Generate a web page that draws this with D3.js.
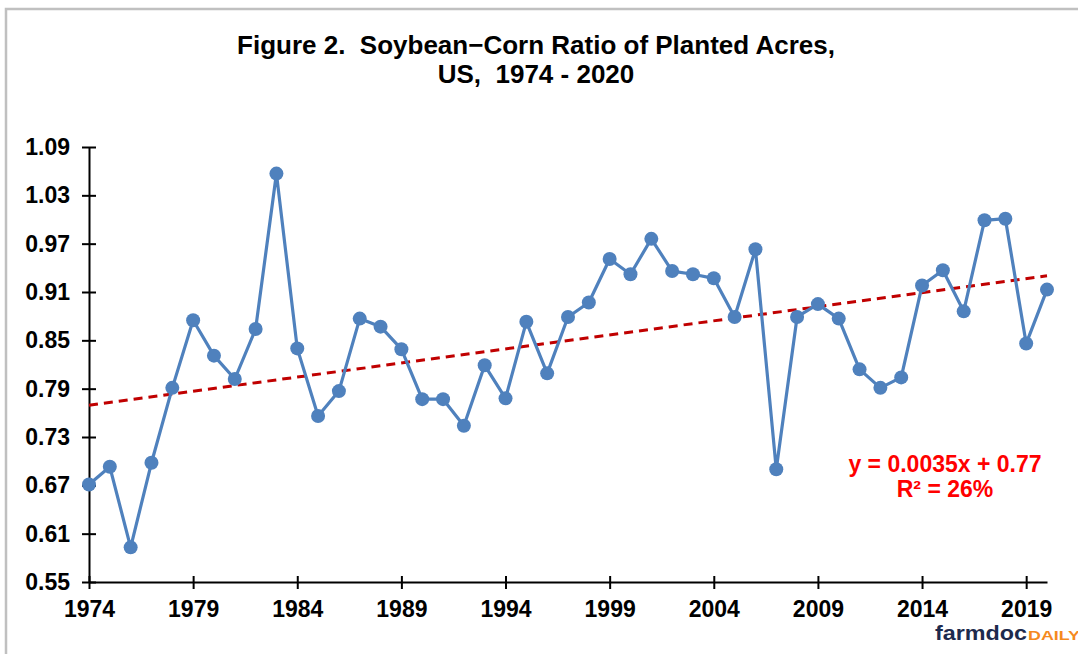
<!DOCTYPE html>
<html>
<head>
<meta charset="utf-8">
<script src="https://cdn.jsdelivr.net/npm/d3@7"></script>
<style>
  body { margin: 0; background: #fff; }
  text { font-family: "Liberation Sans", Arial, sans-serif; white-space: pre; }
</style>
</head>
<body>
<div id="chart"></div>
<script>
// 1: DATA
const years = d3.range(1974, 2021);
const ratios = [
  0.671, 0.693, 0.593, 0.698, 0.791, 0.875, 0.831, 0.802, 0.864, 1.057,
  0.840, 0.756, 0.787, 0.877, 0.867, 0.839, 0.777, 0.777, 0.744, 0.819,
  0.778, 0.873, 0.809, 0.879, 0.897, 0.951, 0.932, 0.976, 0.936, 0.932,
  0.927, 0.879, 0.963, 0.690, 0.879, 0.895, 0.877, 0.814, 0.791, 0.804,
  0.918, 0.937, 0.886, 0.999, 1.001, 0.846, 0.913
];
const yTicks = [0.55, 0.61, 0.67, 0.73, 0.79, 0.85, 0.91, 0.97, 1.03, 1.09];
const xTicks = [1974, 1979, 1984, 1989, 1994, 1999, 2004, 2009, 2014, 2019];
const titleLines = ["Figure 2.  Soybean\u2212Corn Ratio of Planted Acres,", "US,  1974 - 2020"];
const eqLines = ["y = 0.0035x + 0.77", "R\u00B2 = 26%"];

const data = years.map((y, i) => ({ year: y, value: ratios[i] }));

// 2: SVG
const W = 1078, H = 654;
const svg = d3.select("#chart").append("svg")
  .attr("width", W).attr("height", H);

// frame
svg.append("path")
  .attr("d", `M6,${H} V9 H${W}`)
  .attr("fill", "none")
  .attr("stroke", "#c0c0c0")
  .attr("stroke-width", 2.5);

// 3: SCALES
const x = d3.scaleLinear().domain([1974, 2020]).range([89, 1047]);
const y = d3.scaleLinear().domain([0.55, 1.09]).range([582, 147]);

// title
svg.append("g").selectAll("text")
  .data(titleLines).join("text")
  .attr("x", 536)
  .attr("y", (d, i) => 54 + i * 29)
  .attr("text-anchor", "middle")
  .attr("font-size", "26px")
  .attr("font-weight", "bold")
  .attr("fill", "#000")
  .text(d => d);

// 4: AXES
const yAxis = svg.append("g")
  .attr("transform", `translate(${x(1974)},0)`)
  .call(d3.axisLeft(y).tickValues(yTicks).tickFormat(d3.format(".2f"))
    .tickSizeInner(7).tickSizeOuter(0).tickPadding(12));
yAxis.selectAll(".tick line").attr("x2", 7).attr("x1", -7);

const xAxis = svg.append("g")
  .attr("transform", `translate(0,${y(0.55)})`)
  .call(d3.axisBottom(x).tickValues(xTicks).tickFormat(d3.format("d"))
    .tickSizeInner(6).tickSizeOuter(0).tickPadding(13));
xAxis.selectAll(".tick line").attr("y1", -6).attr("y2", 7);

[yAxis, xAxis].forEach(a => {
  a.select(".domain").attr("stroke", "#000").attr("stroke-width", 2);
  a.selectAll(".tick line").attr("stroke", "#000").attr("stroke-width", 2);
  a.selectAll(".tick text")
    .attr("font-size", "23px")
    .attr("font-weight", "bold")
    .attr("fill", "#000")
    .attr("font-family", "'Liberation Sans', Arial, sans-serif");
});

// 5: TREND LINE (least squares on year index)
const n = data.length;
const idx = data.map((d, i) => i + 1);
const mx = d3.mean(idx), my = d3.mean(ratios);
const slope = d3.sum(idx, (t, i) => (t - mx) * (ratios[i] - my)) / d3.sum(idx, t => (t - mx) ** 2);
const icpt = my - slope * mx;

svg.append("line")
  .attr("x1", x(1974)).attr("y1", y(icpt + slope * 1))
  .attr("x2", x(2020)).attr("y2", y(icpt + slope * n))
  .attr("stroke", "#c00000")
  .attr("stroke-width", 3)
  .attr("stroke-dasharray", "9,6");

// 6: SERIES
const line = d3.line().x(d => x(d.year)).y(d => y(d.value));
svg.append("path")
  .datum(data)
  .attr("fill", "none")
  .attr("stroke", "#4f81bd")
  .attr("stroke-width", 3.2)
  .attr("stroke-linejoin", "round")
  .attr("d", line);

svg.append("g").selectAll("circle")
  .data(data).join("circle")
  .attr("cx", d => x(d.year))
  .attr("cy", d => y(d.value))
  .attr("r", 7)
  .attr("fill", "#4f81bd");

// 7: EQUATION LABEL
svg.append("g").selectAll("text")
  .data(eqLines).join("text")
  .attr("x", 945)
  .attr("y", (d, i) => 472 + i * 25)
  .attr("text-anchor", "middle")
  .attr("font-size", "23px")
  .attr("font-weight", "bold")
  .attr("fill", "#ff0000")
  .text(d => d);

// logo
svg.append("text")
  .attr("x", 935).attr("y", 640)
  .attr("font-size", "20px").attr("font-weight", "bold")
  .attr("fill", "#1d2a4d")
  .attr("textLength", 92).attr("lengthAdjust", "spacingAndGlyphs")
  .text("farmdoc");
svg.append("text")
  .attr("x", 1028).attr("y", 640)
  .attr("font-size", "12px").attr("font-weight", "bold")
  .attr("fill", "#f58a1f")
  .attr("textLength", 52).attr("lengthAdjust", "spacingAndGlyphs")
  .text("DAILY");
</script>
</body>
</html>
